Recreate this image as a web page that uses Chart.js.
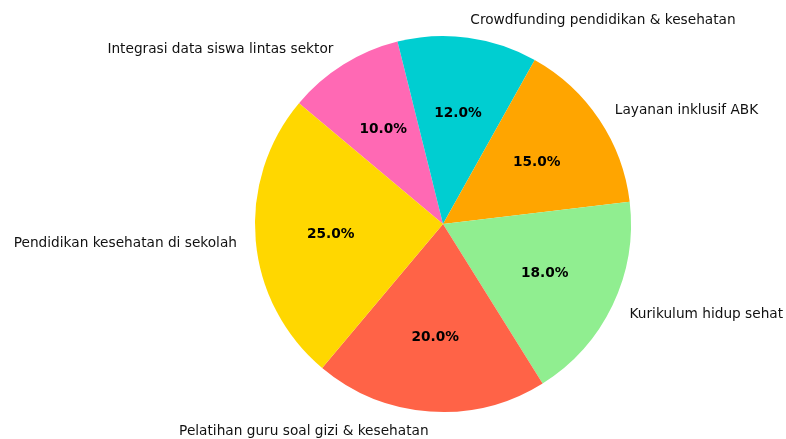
<!DOCTYPE html>
<html>
<head>
<meta charset="utf-8">
<script src="https://cdn.jsdelivr.net/npm/chart.js@4/dist/chart.umd.min.js"></script>
<style>
html,body{margin:0;padding:0;background:#fff;}
canvas{display:block;}
</style>
</head>
<body>
<canvas id="c" width="786" height="439"></canvas>
<script>
// Data (ordered clockwise as drawn)
const categories = [
  "Integrasi data siswa lintas sektor",
  "Crowdfunding pendidikan & kesehatan",
  "Layanan inklusif ABK",
  "Kurikulum hidup sehat",
  "Pelatihan guru soal gizi & kesehatan",
  "Pendidikan kesehatan di sekolah"
];
const values = [10, 12, 15, 18, 20, 25];
const colors = ["#FF69B4", "#00CED1", "#FFA500", "#90EE90", "#FF6347", "#FFD700"];

const labelPlugin = {
  id: 'pieLabels',
  afterDatasetsDraw(chart) {
    const ctx = chart.ctx;
    const meta = chart.getDatasetMeta(0);
    const total = values.reduce((a, b) => a + b, 0);
    ctx.save();
    meta.data.forEach((arc, i) => {
      const p = arc.getProps(['x', 'y', 'startAngle', 'endAngle', 'outerRadius'], true);
      const mid = (p.startAngle + p.endAngle) / 2;
      const cx = Math.cos(mid), cy = Math.sin(mid);
      // percentage
      ctx.font = 'bold 13.7px "DejaVu Sans"';
      ctx.fillStyle = '#000';
      ctx.textAlign = 'center';
      ctx.textBaseline = 'middle';
      const pct = (values[i] / total * 100).toFixed(1) + '%';
      ctx.fillText(pct, p.x + cx * p.outerRadius * 0.6, p.y + cy * p.outerRadius * 0.6 + 1);
      // category label
      ctx.font = '13.7px "DejaVu Sans"';
      ctx.fillStyle = '#111';
      ctx.textAlign = cx > 0 ? 'left' : 'right';
      ctx.fillText(categories[i], p.x + cx * p.outerRadius * 1.1, p.y + cy * p.outerRadius * 1.1 + 1);
    });
    ctx.restore();
  }
};

new Chart(document.getElementById('c'), {
  type: 'pie',
  data: {
    labels: categories,
    datasets: [{
      data: values,
      backgroundColor: colors,
      borderWidth: 0,
      hoverOffset: 0
    }]
  },
  options: {
    responsive: false,
    animation: false,
    rotation: -50,
    layout: { padding: { left: 255, right: 155, top: 36, bottom: 27 } },
    plugins: { legend: { display: false }, tooltip: { enabled: false } },
    events: []
  },
  plugins: [labelPlugin]
});
</script>
</body>
</html>
